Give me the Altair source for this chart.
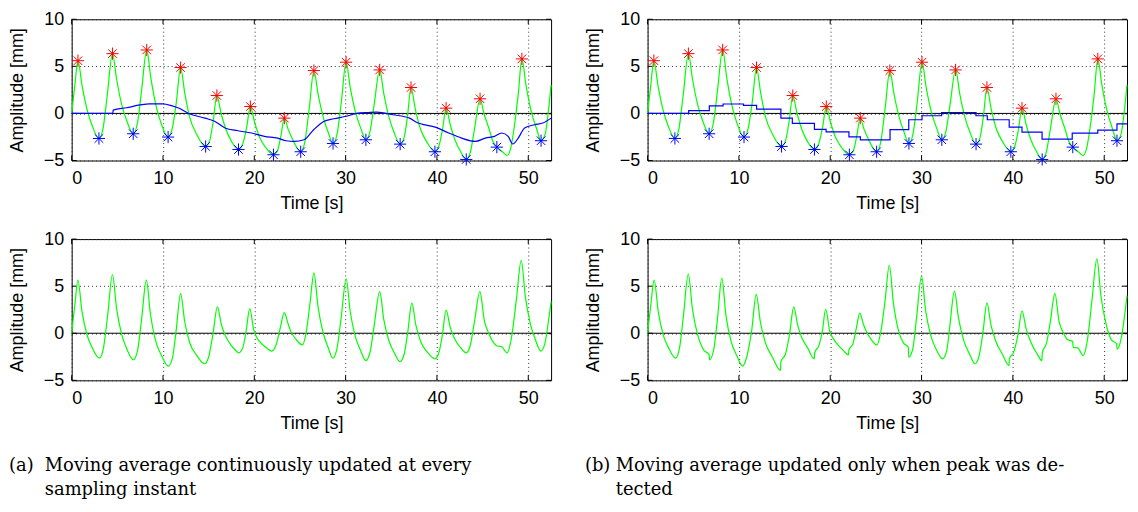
import altair as alt
import pandas as pd

# ---------------- data ----------------
x_ticks = [0, 10, 20, 30, 40, 50]
y_ticks = [-5, 0, 5, 10]

# raw respiration signal (top panels), (time s, amplitude mm)
signal = [
    (0, 0), (0.35, 3.0), (0.69, 5.6), (1.14, 2.96), (1.69, 0.40), (2.29, -1.42), (2.99, -2.66),
    (3.44, -1.58), (3.89, 1.85), (4.47, 6.35), (4.92, 3.63), (5.47, 0.99), (6.07, -0.88), (6.74, -2.16),
    (7.19, -1.09), (7.64, 2.29), (8.22, 6.74), (8.67, 3.78), (9.22, 0.91), (9.82, -1.12), (10.56, -2.51),
    (11.01, -1.62), (11.46, 1.18), (11.93, 4.87), (12.38, 2.19), (12.93, -0.41), (13.7, -2.25), (14.67, -3.51),
    (15.12, -2.86), (15.5, -0.81), (15.9, 1.9), (16.35, 0.07), (16.9, -1.71), (17.5, -2.97), (18.27, -3.83),
    (18.72, -3.28), (19.15, -1.55), (19.57, 0.73), (20.02, -0.91), (20.57, -2.5), (21.25, -3.62), (22.1, -4.39),
    (22.55, -3.92), (22.9, -2.44), (23.29, -0.5), (23.69, -1.64), (24.19, -2.75), (24.59, -3.53), (25.08, -4.07),
    (25.53, -3.04), (25.98, 0.24), (26.53, 4.55), (26.98, 2.07), (27.53, -0.33), (28.1, -2.03), (28.62, -3.19),
    (29.07, -2.15), (29.52, 1.13), (30.05, 5.44), (30.5, 2.8), (31.05, 0.25), (31.65, -1.56), (32.22, -2.8),
    (32.67, -1.91), (33.12, 0.91), (33.73, 4.62), (34.18, 2.1), (34.73, -0.34), (35.33, -2.08), (35.97, -3.26),
    (36.41, -2.54), (36.78, -0.26), (37.16, 2.75), (37.61, 0.57), (38.16, -1.55), (38.9, -3.05), (39.78, -4.07),
    (40.2, -3.51), (40.6, -1.77), (41.0, 0.56), (41.45, -1.18), (42.0, -2.87), (42.6, -4.07), (43.21, -4.89),
    (43.66, -4.12), (44.11, -1.67), (44.72, 1.55), (45.17, -0.09), (45.72, -1.68), (46.1, -2.9), (46.56, -3.58),
    (47.2, -4.1), (47.7, -4.46), (48.1, -3.6), (48.5, -1.2), (48.9, 2.0), (49.3, 5.79), (49.75, 3.01),
    (50.3, 0.32), (50.9, -1.6), (51.4, -2.9), (51.85, -2.2), (52.2, 0.2), (52.5, 3.03),
]

peaks = [
    (0.69, 5.6), (4.47, 6.35), (8.22, 6.74), (11.93, 4.87), (15.9, 1.9), (19.57, 0.73), (23.29, -0.5),
    (26.53, 4.55), (30.05, 5.44), (33.73, 4.62), (37.16, 2.75), (41.0, 0.56), (44.72, 1.55), (49.3, 5.79),
]
troughs = [
    (2.99, -2.66), (6.74, -2.16), (10.56, -2.51), (14.67, -3.51), (18.27, -3.83), (22.1, -4.39), (25.08, -4.07),
    (28.62, -3.19), (32.22, -2.8), (35.97, -3.26), (39.78, -4.07), (43.21, -4.89), (46.56, -3.58), (51.4, -2.9),
]

# moving average, continuously updated (panel a)
ma_cont = [
    (0, 0), (4.5, 0), (4.55, 0.35), (6.0, 0.6), (7.5, 0.9), (8.5, 1.02), (10.0, 1.02), (11.0, 0.8),
    (11.7, 0.57), (12.8, 0.0), (14.6, -0.5), (15.7, -0.85), (16.8, -1.55), (18.2, -1.84), (19.7, -2.08),
    (21.1, -2.44), (22.56, -2.62), (23.5, -2.9), (24.36, -2.97), (25.44, -2.8), (26.5, -1.73), (27.6, -0.85),
    (28.7, -0.57), (30.1, -0.3), (31.2, 0.0), (32.5, 0.1), (33.4, 0.14), (35.2, -0.14), (37.0, -0.5),
    (37.7, -0.92), (39.9, -1.48), (41.3, -2.08), (42.7, -2.62), (44.2, -2.97), (45.3, -2.62), (46.3, -2.44),
    (47.1, -2.08), (47.8, -2.44), (48.3, -3.25), (48.9, -2.62), (49.6, -1.55), (50.7, -1.2), (51.6, -1.02),
    (52.5, -0.5),
]

# moving average, updated only at detected peaks/troughs (panel b)
ma_step = [
    (0, 0), (4.5, 0.3), (6.76, 0.8), (8.27, 1.0), (10.5, 0.85), (11.94, 0.45), (14.6, -0.5), (15.85, -1.05),
    (18.27, -1.7), (19.55, -1.95), (22.05, -2.5), (23.3, -2.8), (26.55, -1.73), (28.6, -0.67), (30.05, -0.25),
    (32.2, 0.1), (35.96, -0.25), (37.2, -0.67), (39.6, -1.45), (41.0, -1.98), (43.2, -2.72), (46.5, -2.09),
    (49.3, -1.77), (51.4, -1.1), (52.5, -1.1),
]

# signal after removing the continuous moving average (bottom left)
resid_a = [
    (0, 0), (0.35, 3.0), (0.68, 5.64), (1.13, 2.33), (1.68, -0.16), (2.3, -1.65), (3.03, -2.64),
    (3.48, -1.57), (3.93, 1.8), (4.47, 6.24), (4.92, 2.62), (5.47, -0.1), (6.07, -1.73), (6.77, -2.82),
    (7.22, -1.8), (7.65, 1.41), (8.18, 5.64), (8.63, 1.99), (9.18, -0.75), (9.85, -2.39), (10.6, -3.49),
    (11.05, -2.57), (11.45, 0.36), (11.93, 4.2), (12.38, 1.22), (12.93, -1.01), (13.7, -2.35), (14.56, -3.24),
    (15.0, -2.52), (15.45, -0.22), (15.96, 2.8), (16.4, 0.9), (16.85, -0.3), (17.4, -1.2), (17.9, -1.75),
    (18.3, -2.08), (18.75, -1.5), (19.1, 0.2), (19.5, 2.62), (19.95, 0.3), (20.3, -0.5), (20.9, -1.2),
    (21.4, -1.6), (21.9, -1.9), (22.4, -1.2), (22.85, 0.6), (23.28, 2.2), (23.7, 1.0), (24.0, 0.2),
    (24.6, -0.7), (25.27, -1.24), (25.7, 0.2), (26.1, 3.2), (26.53, 6.42), (26.98, 2.8), (27.53, 0.08),
    (28.1, -1.55), (28.6, -2.64), (29.05, -1.63), (29.5, 1.56), (30.06, 5.79), (30.5, 2.31), (31.05, -0.3),
    (31.65, -1.86), (32.22, -2.9), (32.67, -2.02), (33.12, 0.76), (33.73, 4.42), (34.18, 1.45), (34.73, -0.77),
    (35.35, -2.11), (35.96, -3.0), (36.4, -2.26), (36.8, 0.1), (37.25, 3.19), (37.7, 0.83), (38.25, -0.95),
    (38.95, -2.01), (39.79, -2.72), (40.2, -2.1), (40.6, -0.13), (41.0, 2.45), (41.45, 0.64), (42.0, -0.72),
    (42.6, -1.54), (43.21, -2.08), (43.65, -1.3), (44.1, 1.17), (44.7, 4.42), (45.2, 1.3), (45.63, 0.1),
    (46.17, -0.96), (46.7, -1.38), (47.07, -1.42), (47.68, -2.08), (48.14, -0.6), (48.7, 3.6), (49.23, 7.75),
    (49.68, 3.89), (50.23, 1.0), (50.8, -0.74), (51.39, -1.9), (51.84, -1.0), (52.2, 1.2), (52.5, 3.35),
]

# signal after removing the peak-updated moving average (bottom right)
resid_b = [
    (0, 0), (0.35, 3.0), (0.72, 5.64), (1.17, 2.3), (1.72, -0.2), (2.35, -1.65), (3.06, -2.64),
    (3.5, -1.55), (3.92, 1.8), (4.46, 6.27), (4.91, 2.6), (5.46, -0.1), (6.1, -1.73), (6.74, -2.3),
    (6.78, -2.82), (7.25, -1.7), (7.65, 1.5), (8.13, 5.85), (8.58, 1.9), (9.13, -0.8), (9.8, -2.45),
    (10.4, -3.49), (10.85, -2.55), (11.4, 0.3), (11.9, 4.13), (12.35, 1.2), (12.9, -1.0), (13.7, -2.6),
    (14.55, -3.94), (14.6, -3.0), (15.1, -2.2), (15.55, -0.1), (16.0, 2.8), (16.45, 0.8), (16.9, -0.5),
    (17.5, -1.5), (18.25, -2.72), (18.3, -2.1), (18.8, -1.2), (19.15, 0.3), (19.5, 2.55), (19.95, 0.2),
    (20.35, -0.6), (21.0, -1.4), (21.5, -1.9), (22.0, -2.3), (22.05, -1.75), (22.5, -1.1), (22.85, 0.5),
    (23.24, 2.13), (23.65, 0.9), (24.0, 0.1), (24.6, -0.8), (25.1, -1.24), (25.55, 0.2), (26.0, 3.4),
    (26.47, 7.22), (26.92, 3.2), (27.47, 0.3), (28.0, -1.0), (28.55, -1.5), (28.6, -2.55), (29.05, -1.6),
    (29.45, 1.6), (30.0, 6.07), (30.45, 2.4), (31.0, -0.2), (31.65, -1.8), (32.3, -2.72), (32.75, -1.9),
    (33.1, 0.8), (33.6, 4.48), (34.05, 1.6), (34.6, -0.7), (35.25, -2.2), (35.86, -3.24), (36.3, -2.4),
    (36.7, -0.1), (37.16, 3.22), (37.6, 0.9), (38.15, -0.9), (38.85, -2.2), (39.58, -3.42), (39.62, -2.7),
    (40.1, -2.0), (40.55, -0.2), (41.0, 2.38), (41.45, 0.5), (42.0, -1.0), (42.6, -2.1), (43.18, -2.9),
    (43.22, -2.1), (43.7, -1.0), (44.1, 1.2), (44.6, 4.24), (45.05, 1.3), (45.5, 0.1), (46.0, -0.7),
    (46.55, -0.85), (46.6, -1.5), (47.1, -1.55), (47.7, -2.37), (48.15, -0.8), (48.65, 3.4), (49.2, 7.89),
    (49.65, 3.9), (50.2, 1.0), (50.8, -0.7), (51.35, -1.1), (51.42, -1.7), (51.85, -0.6), (52.2, 1.6),
    (52.5, 4.0),
]

caption_a = ["(a)", "Moving average continuously updated at every", "sampling instant"]
caption_b = ["(b)", "Moving average updated only when peak was de-", "tected"]

# ---------------- chart ----------------
W, H = 482, 142
TICK = 5
ASTERISK = "M-1,0L1,0M0,-1L0,1M-0.7,-0.7L0.7,0.7M-0.7,0.7L0.7,-0.7"


def frame(pairs):
    return pd.DataFrame(pairs, columns=["t", "v"])


X = alt.X("t:Q", scale=alt.Scale(domain=[0, 52.5], nice=False, zero=False),
          axis=alt.Axis(values=x_ticks, title="Time [s]"))
Y = alt.Y("v:Q", scale=alt.Scale(domain=[-5, 10], nice=False, zero=False),
          axis=alt.Axis(values=y_ticks, title="Amplitude [mm]"))


def zero_line():
    return alt.Chart(frame([(0, 0)])).mark_rule(color="black", strokeWidth=1).encode(y=Y)


def inner_ticks():
    xt = pd.DataFrame({"t": x_ticks})
    yt = pd.DataFrame({"v": y_ticks})
    common = dict(color="black", thickness=1, size=TICK, opacity=1)
    return [
        alt.Chart(xt).mark_tick(orient="vertical", **common).encode(x=X, y=alt.value(TICK / 2)),
        alt.Chart(xt).mark_tick(orient="vertical", **common).encode(x=X, y=alt.value(H - TICK / 2)),
        alt.Chart(yt).mark_tick(orient="horizontal", **common).encode(y=Y, x=alt.value(TICK / 2)),
        alt.Chart(yt).mark_tick(orient="horizontal", **common).encode(y=Y, x=alt.value(W - TICK / 2)),
    ]


def green(pairs):
    return alt.Chart(frame(pairs)).mark_line(color="#00ff00", strokeWidth=1.2,
                                             interpolate="monotone").encode(x=X, y=Y)


def blue(pairs, interp):
    return alt.Chart(frame(pairs)).mark_line(color="#0000ff", strokeWidth=1.2,
                                             interpolate=interp).encode(x=X, y=Y)


def stars(pairs, color):
    return alt.Chart(frame(pairs)).mark_point(shape=ASTERISK, size=150, filled=False, color=color,
                                              strokeWidth=1, opacity=1).encode(x=X, y=Y)


def cap_text(text, x, y):
    return alt.Chart(pd.DataFrame({"s": [text]})).mark_text(
        align="left", baseline="alphabetic", font="DejaVu Serif", fontSize=18, color="black"
    ).encode(x=alt.value(x), y=alt.value(y), text="s:N")


CAP_Y1, CAP_Y2 = 233, 257

top_a = alt.layer(zero_line(), *inner_ticks(), green(signal), blue(ma_cont, "monotone"),
                  stars(peaks, "#ff0000"), stars(troughs, "#0000ff")).properties(width=W, height=H)
top_b = alt.layer(zero_line(), *inner_ticks(), green(signal), blue(ma_step, "step-after"),
                  stars(peaks, "#ff0000"), stars(troughs, "#0000ff")).properties(width=W, height=H)
bot_a = alt.layer(
    zero_line(), *inner_ticks(), green(resid_a),
    cap_text(caption_a[0], -63, CAP_Y1), cap_text(caption_a[1], -27, CAP_Y1), cap_text(caption_a[2], -27, CAP_Y2),
).properties(width=W, height=H)
bot_b = alt.layer(
    zero_line(), *inner_ticks(), green(resid_b),
    cap_text(caption_b[0], -63, CAP_Y1), cap_text(caption_b[1], -32, CAP_Y1), cap_text(caption_b[2], -32, CAP_Y2),
).properties(width=W, height=H)

row1 = alt.hconcat(top_a, top_b, spacing=30)
row2 = alt.hconcat(bot_a, bot_b, spacing=30)

chart = alt.vconcat(row1, row2, spacing=16).properties(
    padding=0, background="white"
).configure_view(stroke="black", strokeWidth=1).configure_axis(
    grid=True, gridColor="#333333", gridDash=[1, 3], gridWidth=1,
    ticks=False, tickSize=0, domain=False,
    labelFont="Liberation Sans", labelFontSize=18, labelColor="black",
    titleFont="Liberation Sans", titleFontSize=18, titleFontWeight="normal", titleColor="black",
).configure_axisX(labelPadding=9, minExtent=28, maxExtent=28, titlePadding=6
).configure_axisY(labelPadding=8, minExtent=30, maxExtent=30, titlePadding=15)

chart.save("out.html", embed_options={"renderer": "svg", "actions": False})
